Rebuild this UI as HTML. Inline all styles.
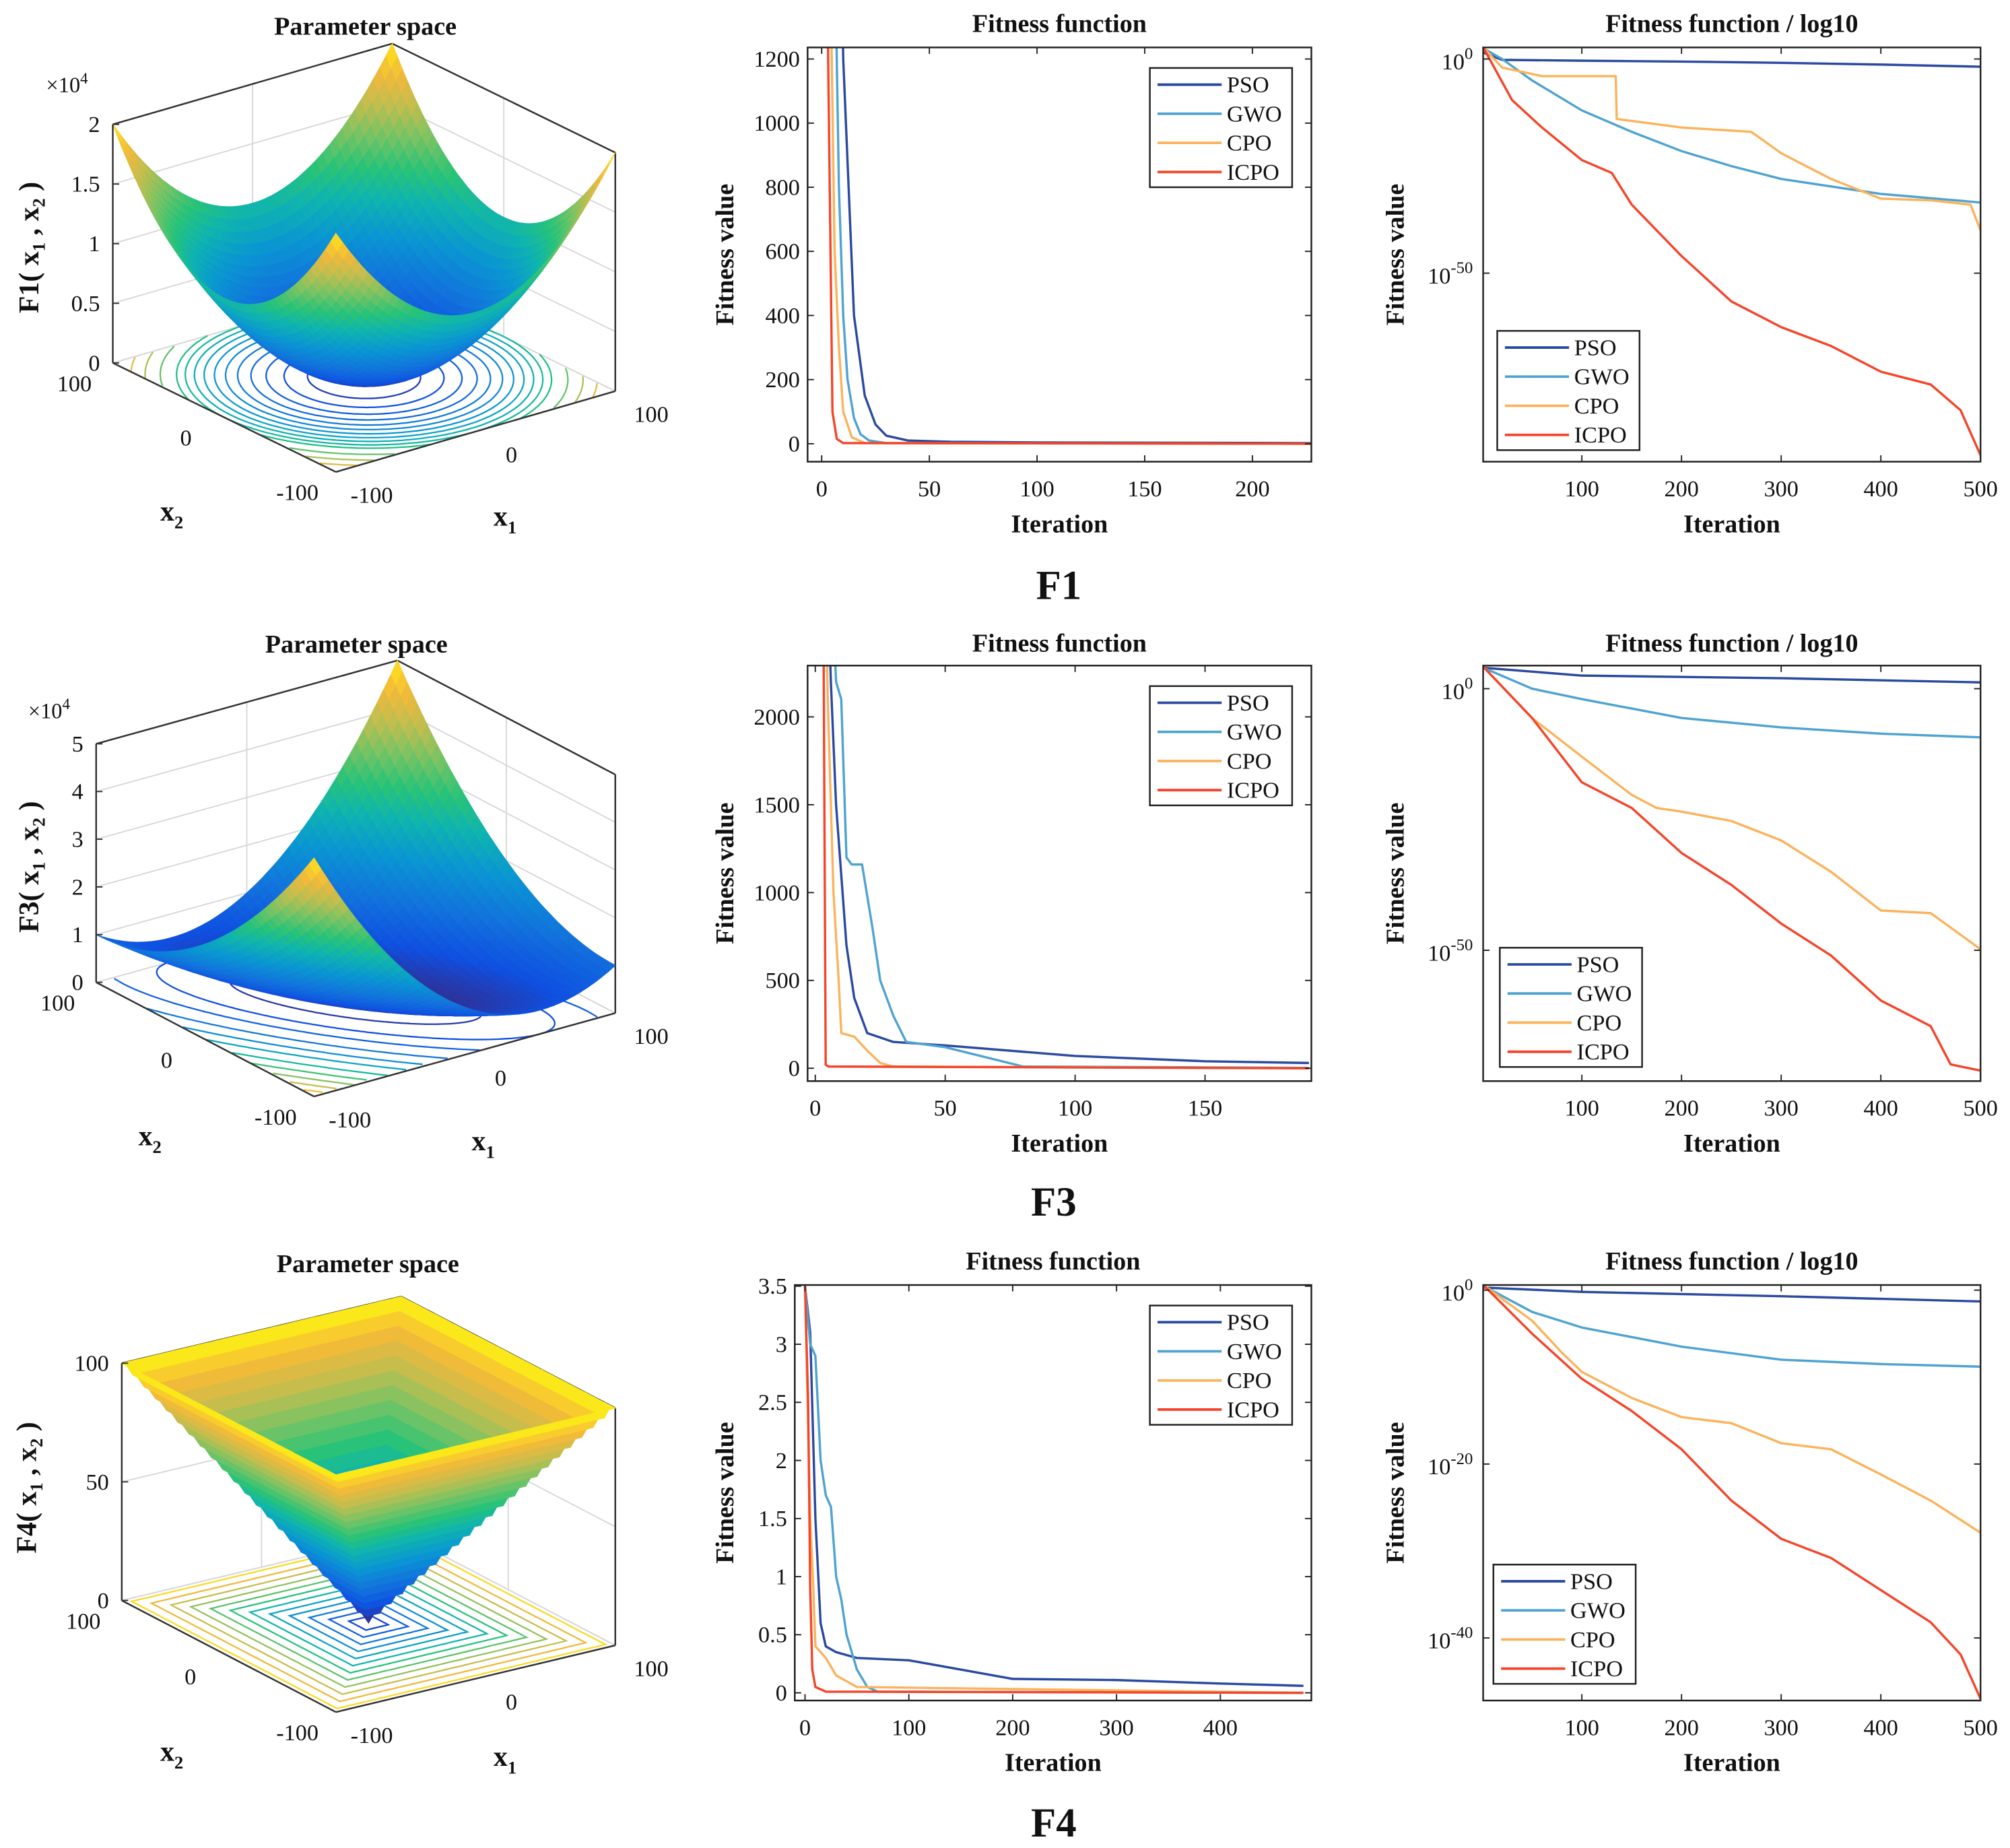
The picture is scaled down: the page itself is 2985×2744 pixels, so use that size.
<!DOCTYPE html>
<html><head><meta charset="utf-8">
<style>
html,body{margin:0;padding:0;background:#fff;}
svg{display:block;font-family:"Liberation Serif",serif;}
</style></head>
<body>
<svg id="fig" xmlns="http://www.w3.org/2000/svg" width="2985" height="2744" viewBox="0 0 1568 1441" preserveAspectRatio="none">
<rect x="0" y="0" width="1568" height="1441" fill="#fff"/>
</svg>
<script>
// ---------------- DATA ----------------
const algNames = ['PSO','GWO','CPO','ICPO'];
// F1 linear
const f1LinIter = {
  PSO:[0,5,10,15,20,25,30,40,60,100,227],
  GWO:[0,5,8,10,12,15,18,22,30,227],
  CPO:[0,4,6,8,10,14,20,227],
  ICPO:[0,3,5,7,10,227]};
const f1LinVal = {
  PSO:[5000,3000,1200,400,150,60,25,10,6,4,2],
  GWO:[5000,2000,800,400,200,80,30,10,2,0],
  CPO:[5000,1500,600,300,100,20,2,0],
  ICPO:[5000,1200,100,15,2,0]};
// F1 log (log10 of fitness)
const f1LogIter = {
  PSO:[1,20,100,200,300,400,500],
  GWO:[1,20,50,100,150,200,250,300,400,500],
  CPO:[1,20,60,134,135,200,270,300,350,400,450,490,500],
  ICPO:[1,30,60,100,130,150,200,250,300,350,400,450,480,500]};
const f1LogExp = {
  PSO:[1.5,-0.2,-0.4,-0.6,-0.9,-1.3,-1.8],
  GWO:[2.5,0,-5,-12,-17,-21.5,-25,-28,-31.5,-33.5],
  CPO:[2.7,-2,-4,-4,-14,-16,-17,-22,-28,-32.6,-33,-34,-40],
  ICPO:[2.7,-9.6,-16,-23.6,-26.6,-34,-46,-56.6,-62.6,-67,-73,-76,-82,-92.5]};
// F3 linear
const f3LinIter = {
  PSO:[0,6,8,12,15,20,30,50,100,150,190],
  GWO:[0,8,10,12,14,18,22,25,30,35,50,80,190],
  CPO:[0,5,7,9,10,15,20,25,30,190],
  ICPO:[0,3,4,5,190]};
const f3LinVal = {
  PSO:[5000,2200,1500,700,400,200,150,130,70,40,30],
  GWO:[5000,2200,2100,1200,1160,1160,800,500,300,150,120,10,2],
  CPO:[5000,2000,1000,500,200,180,100,30,10,0],
  ICPO:[5000,3000,20,10,0]};
// F3 log
const f3LogIter = {
  PSO:[1,100,300,500],
  GWO:[1,50,100,200,300,400,500],
  CPO:[1,50,100,150,175,200,250,300,350,400,450,500],
  ICPO:[1,50,100,150,200,250,300,350,400,450,470,500]};
const f3LogExp = {
  PSO:[4,2.5,2,1.2],
  GWO:[4,0,-2,-5.6,-7.4,-8.6,-9.3],
  CPO:[4.2,-5.6,-13,-20.3,-22.8,-23.5,-25.3,-29,-35,-42.4,-42.9,-49.8],
  ICPO:[4.2,-5.6,-17.9,-22.8,-31.4,-37.5,-44.9,-51,-59.6,-64.5,-71.8,-73]};
// F4 linear
const f4LinIter = {
  PSO:[0,5,10,15,20,30,50,100,150,200,300,400,480],
  GWO:[0,5,10,15,20,25,30,35,40,50,60,70,480],
  CPO:[0,5,8,10,20,30,50,480],
  ICPO:[0,3,5,7,10,20,480]};
const f4LinVal = {
  PSO:[3.5,3.1,1.5,0.6,0.4,0.35,0.3,0.28,0.2,0.12,0.11,0.08,0.06],
  GWO:[3.5,3,2.9,2.0,1.7,1.6,1.0,0.8,0.5,0.2,0.05,0.01,0],
  CPO:[3.5,1.5,0.9,0.4,0.3,0.15,0.05,0],
  ICPO:[3.5,2.5,0.9,0.2,0.05,0.01,0]};
// F4 log
const f4LogIter = {
  PSO:[1,100,300,500],
  GWO:[1,50,100,200,300,400,500],
  CPO:[1,50,80,100,150,200,250,300,350,400,450,500],
  ICPO:[1,50,100,150,200,250,300,350,400,450,480,500]};
const f4LogExp = {
  PSO:[0.3,-0.2,-0.7,-1.3],
  GWO:[0.5,-2.5,-4.3,-6.5,-8,-8.5,-8.8],
  CPO:[0.6,-3.5,-7.2,-9.4,-12.4,-14.6,-15.3,-17.6,-18.3,-21.2,-24.2,-27.9],
  ICPO:[0.6,-5,-10.2,-13.9,-18.3,-24.2,-28.6,-30.8,-34.5,-38.2,-41.9,-47]};
// tick labels
const linXTicks1 = [0,50,100,150,200];
const linYTicks1 = [0,200,400,600,800,1000,1200];
const linXTicks3 = [0,50,100,150];
const linYTicks3 = [0,500,1000,1500,2000];
const linXTicks4 = [0,100,200,300,400];
const linYTicks4 = [0,0.5,1,1.5,2,2.5,3,3.5];
const logXTicks = [100,200,300,400,500];
const logYTicks1 = [0,-50];
const logYTicks3 = [0,-50];
const logYTicks4 = [0,-20,-40];

const colors = {PSO:'#2a4aa0',GWO:'#4fa3d1',CPO:'#fbb35c',ICPO:'#f4452a'};

// ---------------- HELPERS ----------------
const NS='http://www.w3.org/2000/svg';
const svg=document.getElementById('fig');
function mk(tag,attrs,parent){const e=document.createElementNS(NS,tag);for(const k in attrs)e.setAttribute(k,attrs[k]);(parent||svg).appendChild(e);return e;}
function text(s,x,y,size,anchor,bold,parent){const t=mk('text',{x:x,y:y,'font-size':size,'text-anchor':anchor||'middle','font-weight':bold?'bold':'normal',fill:'#111'},parent);t.textContent=s;return t;}
function powText(exp,x,y,parent){const t=mk('text',{x:x,y:y,'font-size':18,'text-anchor':'end',fill:'#111'},parent);const a=mk('tspan',{},t);a.textContent='10';const b=mk('tspan',{dy:-8,'font-size':13},t);b.textContent=String(exp);return t;}

let clipId=0;
function lineChart(cfg){
  const g=mk('g',{});
  
  
  const {x0,x1,y0,y1}=cfg.box;
  const sx=v=>cfg.xo+v*cfg.xs;
  const sy=cfg.log? (e=>cfg.yo-e*cfg.ys) : (v=>cfg.yo-v*cfg.ys);
  const id='clip'+(clipId++);
  const cp=mk('clipPath',{id:id},g);mk('rect',{x:x0,y:y0,width:x1-x0,height:y1-y0},cp);
  const tt=text(cfg.title,(x0+x1)/2,cfg.titleY,20,'middle',true,g);
  
  
  const sg=mk('g',{'clip-path':'url(#'+id+')'},g);
  algNames.forEach(n=>{
    const it=cfg.iter[n],vs=cfg.vals[n];
    const pts=it.map((v,i)=>sx(v).toFixed(2)+','+sy(vs[i]).toFixed(2)).join(' ');
    const pl=mk('polyline',{points:pts,fill:'none',stroke:colors[n],'stroke-width':1.8,'stroke-linejoin':'round'},sg);
    
    
  });
  const bx=mk('rect',{x:x0,y:y0,width:x1-x0,height:y1-y0,fill:'none',stroke:'#222','stroke-width':1.3},g);
  
  
  cfg.xt.forEach(v=>{const x=sx(v);
    mk('line',{x1:x,y1:y1,x2:x,y2:y1-5,stroke:'#222'},g);
    mk('line',{x1:x,y1:y0,x2:x,y2:y0+5,stroke:'#222'},g);
    const t=text(String(v),x,y1+27,18,'middle',false,g);
    
    
  });
  cfg.yt.forEach(v=>{const y=sy(v);
    mk('line',{x1:x0,y1:y,x2:x0+5,y2:y,stroke:'#222'},g);
    mk('line',{x1:x1,y1:y,x2:x1-5,y2:y,stroke:'#222'},g);
    let t;
    if(cfg.log){t=powText(v,x0-8,y+8,g);}else{t=text(String(v),x0-6,y+6,18,'end',false,g);}
    
    
  });
  const xl=text('Iteration',(x0+x1)/2,y1+55,20,'middle',true,g);
  
  
  const yl=text('Fitness value',0,0,20,'middle',true,g);
  yl.setAttribute('transform','translate('+cfg.ylX+','+((y0+y1)/2)+') rotate(-90)');
  
  
  const L=cfg.leg;
  const lg=mk('g',{},g);
  
  
  mk('rect',{x:L.x,y:L.y,width:111,height:93,fill:'#fff',stroke:'#222','stroke-width':1.3},lg);
  algNames.forEach((n,i)=>{const yy=L.y+13+i*22.7;
    mk('line',{x1:L.x+6,y1:yy,x2:L.x+56,y2:yy,stroke:colors[n],'stroke-width':2},lg);
    const t=text(n,L.x+60,yy+6,18,'start',false,lg);
    
    
  });
}

const cmap=[[0,53,42,135],[0.1,15,80,225],[0.22,18,115,220],[0.35,10,150,210],[0.47,15,180,175],[0.57,40,195,120],[0.68,120,195,100],[0.78,190,190,80],[0.88,240,185,60],[0.95,252,210,40],[1,249,251,14]];
function col(t){t=Math.max(0,Math.min(1,t));for(let i=1;i<cmap.length;i++){if(t<=cmap[i][0]){const a=cmap[i-1],b=cmap[i],f=(t-a[0])/(b[0]-a[0]);return 'rgb('+[1,2,3].map(k=>Math.round(a[k]+(b[k]-a[k])*f)).join(',')+')';}}return 'rgb(249,251,14)';}

function surf(cfg){
  const g=mk('g',{});
  
  
  const P=(x1,x2,z)=>[cfg.O[0]+x1/100*cfg.a[0]+x2/100*cfg.b[0], cfg.O[1]+x1/100*cfg.a[1]+x2/100*cfg.b[1]-z*cfg.zs];
  const tt=text('Parameter space',cfg.titleX,cfg.titleY,20,'middle',true,g);
  
  
  const zt=cfg.zTop;
  const gl=(p,q)=>mk('line',{x1:p[0],y1:p[1],x2:q[0],y2:q[1],stroke:'#d8d8d8','stroke-width':1},g);
  cfg.zt.forEach(z=>{gl(P(-100,100,z),P(100,100,z));gl(P(100,100,z),P(100,-100,z));});
  [0].forEach(v=>{gl(P(v,100,0),P(v,100,zt));gl(P(100,v,0),P(100,v,zt));});
  gl(P(-100,100,0),P(100,100,0));gl(P(100,100,0),P(100,-100,0));
  const bl=(p,q)=>mk('line',{x1:p[0],y1:p[1],x2:q[0],y2:q[1],stroke:'#333','stroke-width':1.3},g);
  bl(P(-100,100,zt),P(100,100,zt));bl(P(100,100,zt),P(100,-100,zt));
  bl(P(100,100,0),P(100,100,zt));bl(P(100,-100,0),P(100,-100,zt));
  const cg=mk('g',{},g);
  
  
  cfg.levels.forEach(lv=>{
    const pts=[];
    for(let k=0;k<=240;k++){const th=k/240*2*Math.PI;const d=[Math.cos(th),Math.sin(th)];
      let lo=0,hi=400;for(let it=0;it<40;it++){const m=(lo+hi)/2;if(cfg.f(m*d[0],m*d[1])<lv)lo=m;else hi=m;}
      let x1=lo*d[0],x2=lo*d[1];
      if(Math.abs(x1)>100||Math.abs(x2)>100){pts.push(null);continue;}
      const p=P(x1,x2,0);pts.push(p[0].toFixed(1)+','+p[1].toFixed(1));}
    let seg=[];const flush=()=>{if(seg.length>1)mk('polyline',{points:seg.join(' '),fill:'none',stroke:col(lv/cfg.zmax*cfg.cscale),'stroke-width':1.2},cg);seg=[];};
    pts.forEach(p=>{if(p===null)flush();else seg.push(p);});flush();
  });
  const sg=mk('g',{},g);
  
  
  const N=44,quads=[];
  for(let i=0;i<N;i++)for(let j=0;j<N;j++){
    const u0=-100+200*i/N,u1=-100+200*(i+1)/N,v0=-100+200*j/N,v1=-100+200*(j+1)/N;
    const c=[[u0,v0],[u1,v0],[u1,v1],[u0,v1]];
    const zc=cfg.f((u0+u1)/2,(v0+v1)/2);
    const depth=P((u0+u1)/2,(v0+v1)/2,0)[1];
    quads.push({c,zc,depth});
  }
  quads.sort((p,q)=>p.depth-q.depth);
  quads.forEach(q=>{const pts=q.c.map(([u,v])=>{const p=P(u,v,cfg.f(u,v));return p[0].toFixed(1)+','+p[1].toFixed(1);}).join(' ');
    const c=col(q.zc/cfg.zmax);mk('polygon',{points:pts,fill:c,stroke:c,'stroke-width':0.6},sg);});
  bl(P(-100,100,0),P(-100,-100,0));bl(P(-100,-100,0),P(100,-100,0));
  bl(P(-100,100,0),P(-100,100,zt));
  cfg.zt.forEach((z,i)=>{const p=P(-100,100,z);mk('line',{x1:p[0],y1:p[1],x2:p[0]+5,y2:p[1],stroke:'#333'},g);
    const t=text(cfg.ztl[i],p[0]-10,p[1]+6,18,'end',false,g);
    
    });
  [-100,0,100].forEach(v=>{
    const p=P(-100,v,0);const t=text(String(v),p[0]-30,p[1]+22,18,'middle',false,g);
    
    
    const q=P(v,-100,0);const t2=text(String(v),q[0]+28,q[1]+24,18,'middle',false,g);
    
    
  });
  if(cfg.mult){const m=text('\u00d710',cfg.mult[0],cfg.mult[1],17,'start',false,g);const s=mk('tspan',{dy:-7,'font-size':12},m);s.textContent='4';
    
    }
  const fl=P(-100,-100,0);
  const x2l=mk('text',{x:fl[0]-128,y:fl[1]+38,'font-size':22,'font-weight':'bold','text-anchor':'middle',fill:'#111'},g);
  x2l.innerHTML='x<tspan dy="6" font-size="14">2</tspan>';
  
  
  const x1l=mk('text',{x:fl[0]+132,y:fl[1]+42,'font-size':22,'font-weight':'bold','text-anchor':'middle',fill:'#111'},g);
  x1l.innerHTML='x<tspan dy="6" font-size="14">1</tspan>';
  
  
  const zl=mk('text',{'font-size':22,'font-weight':'bold','text-anchor':'middle',fill:'#111',transform:'translate('+cfg.zlX+','+cfg.zlY+') rotate(-90)'},g);
  zl.innerHTML=cfg.fname+'( x<tspan dy="5" font-size="14">1</tspan><tspan dy="-5"> , x</tspan><tspan dy="5" font-size="14">2</tspan><tspan dy="-5"> )</tspan>';
  
  
}

surf({name:'f1-surface',O:[284,294],a:[109,-31.5],b:[-87,-42.5],zs:186/2e4,zTop:2e4,zmax:2e4,cscale:1,
  f:(x,y)=>x*x+y*y,levels:[1000,2000,3000,4000,5000,6000,7000,8000,9000,10000,11000,13000,15000,17000],
  zt:[0,5000,10000,15000,20000],ztl:['0','0.5','1','1.5','2'],mult:[36,72],fname:'F1',zlX:30,zlY:193,titleX:285,titleY:27});
surf({name:'f3-surface',O:[277.5,778],a:[117.5,-32.5],b:[-85,-44.5],zs:186/5e4,zTop:5e4,zmax:5e4,cscale:1,
  f:(x,y)=>x*x+(x+y)*(x+y),levels:[2000,5000,8000,12000,16000,20000,25000,30000,35000,40000,45000],
  zt:[0,10000,20000,30000,40000,50000],ztl:['0','1','2','3','4','5'],mult:[22,560],fname:'F3',zlX:30,zlY:676,titleX:278,titleY:509});
surf({name:'f4-surface',O:[287.5,1265.5],a:[109,-26],b:[-83.5,-43.5],zs:185/100,zTop:100,zmax:100,cscale:1,
  f:(x,y)=>Math.max(Math.abs(x),Math.abs(y)),levels:[8,16,24,32,40,48,56,64,72,80,88,96],
  zt:[0,50,100],ztl:['0','50','100'],mult:null,fname:'F4',zlX:28,zlY:1160,titleX:287,titleY:992});

lineChart({name:'f1-fitness-chart',box:{x0:630,x1:1023,y0:37,y1:360},xo:641,xs:1.68,yo:346,ys:0.25,log:false,
  iter:f1LinIter,vals:f1LinVal,xt:linXTicks1,yt:linYTicks1,title:'Fitness function',titleY:25,ylX:572,leg:{x:897,y:53}});
lineChart({name:'f1-log-chart',box:{x0:1157,x1:1545,y0:37,y1:360},xo:1156.25,xs:0.7775,yo:46,ys:3.34,log:true,
  iter:f1LogIter,vals:f1LogExp,xt:logXTicks,yt:logYTicks1,title:'Fitness function / log10',titleY:25,ylX:1095,leg:{x:1168,y:258}});
lineChart({name:'f3-fitness-chart',box:{x0:630,x1:1023,y0:519,y1:843},xo:636,xs:2.027,yo:833,ys:0.137,log:false,
  iter:f3LinIter,vals:f3LinVal,xt:linXTicks3,yt:linYTicks3,title:'Fitness function',titleY:508,ylX:572,leg:{x:897,y:535}});
lineChart({name:'f3-log-chart',box:{x0:1157,x1:1545,y0:519,y1:843},xo:1156.25,xs:0.7775,yo:537,ys:4.08,log:true,
  iter:f3LogIter,vals:f3LogExp,xt:logXTicks,yt:logYTicks3,title:'Fitness function / log10',titleY:508,ylX:1095,leg:{x:1170,y:739}});
lineChart({name:'f4-fitness-chart',box:{x0:620,x1:1023,y0:1002,y1:1326},xo:628,xs:0.81,yo:1320,ys:90.6,log:false,
  iter:f4LinIter,vals:f4LinVal,xt:linXTicks4,yt:linYTicks4,title:'Fitness function',titleY:990,ylX:572,leg:{x:897,y:1018}});
lineChart({name:'f4-log-chart',box:{x0:1157,x1:1545,y0:1002,y1:1326},xo:1156.25,xs:0.7775,yo:1006,ys:6.78,log:true,
  iter:f4LogIter,vals:f4LogExp,xt:logXTicks,yt:logYTicks4,title:'Fitness function / log10',titleY:990,ylX:1095,leg:{x:1165,y:1220}});

const r1=text('F1',826,467,32,'middle',true);


const r3=text('F3',822,948,32,'middle',true);


const r4=text('F4',822,1432,32,'middle',true);


</script>
</body></html>
